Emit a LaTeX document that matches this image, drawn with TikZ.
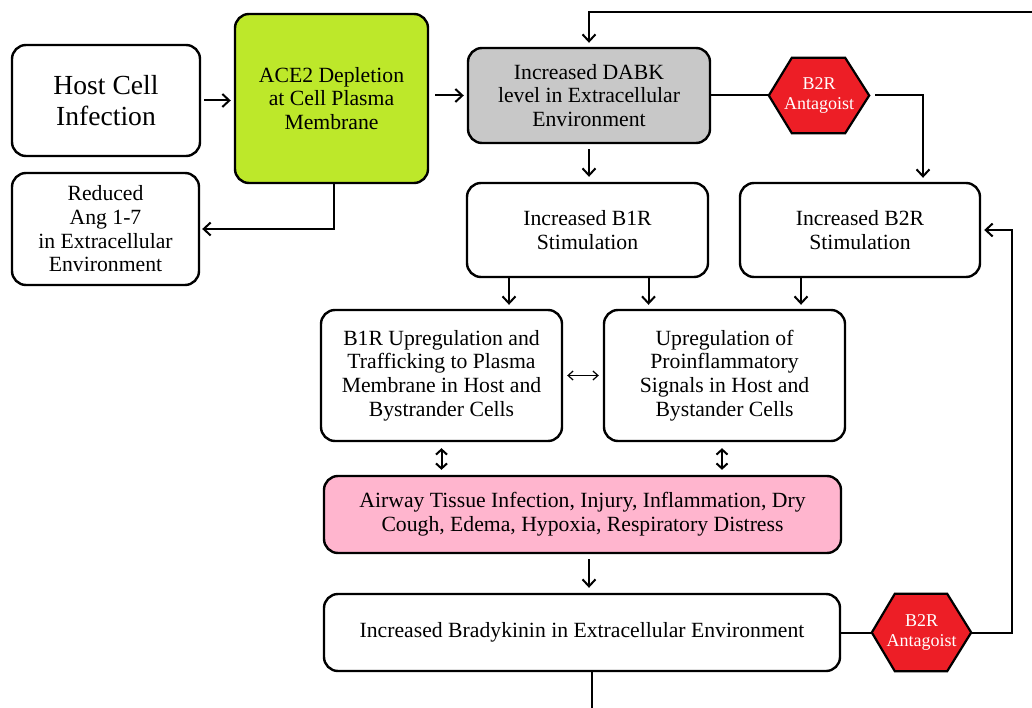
\documentclass[tikz,border=0pt]{standalone}
\usepackage{fontspec}
\setmainfont{Liberation Serif}
\usetikzlibrary{arrows.meta,calc,backgrounds}
\definecolor{acegreen}{RGB}{189,232,42}
\definecolor{dabkgray}{RGB}{200,200,200}
\definecolor{pinkbox}{RGB}{255,181,206}
\definecolor{hexred}{RGB}{237,30,38}
\tikzset{
  box/.style={draw=black, line width=2.4pt, rounded corners=14pt, align=center, inner sep=2pt,
    font=\fontsize{21.7}{23.7}\selectfont},
  hexnode/.style={draw=none, align=center, text=white, inner sep=0pt,
    font=\fontsize{18}{19.5}\selectfont},
  arr/.style={line width=2pt, -{Straight Barb[length=7pt,width=13pt]}},
  plain/.style={line width=2pt},
  dbl/.style={line width=1.2pt, {Straight Barb[length=5pt,width=9pt]}-{Straight Barb[length=5pt,width=9pt]}},
  dblv/.style={line width=2pt, {Straight Barb[length=5pt,width=11pt]}-{Straight Barb[length=5pt,width=11pt]}},
}
\begin{document}
\begin{tikzpicture}[x=1pt,y=-1pt]
\useasboundingbox (0,0) rectangle (1032,708);

\node[box, minimum width=188pt, minimum height=111pt, font=\fontsize{27.6}{31}\selectfont] (host) at (106,100.5) {Host Cell\\Infection};
\node[box, fill=acegreen, minimum width=193pt, minimum height=169pt] (ace2) at (331.5,98.5) {ACE2 Depletion\\at Cell Plasma\\Membrane};
\node[box, minimum width=187pt, minimum height=112pt] (reduced) at (105.5,229) {Reduced\\Ang 1-7\\in Extracellular\\Environment};
\node[box, fill=dabkgray, minimum width=242pt, minimum height=95pt] (dabk) at (589,95.5) {Increased DABK\\level in Extracellular\\Environment};
\node[box, minimum width=241pt, minimum height=94pt] (b1r) at (587.5,230) {Increased B1R\\Stimulation};
\node[box, minimum width=240pt, minimum height=94pt] (b2r) at (860,230) {Increased B2R\\Stimulation};
\node[box, minimum width=241pt, minimum height=131pt] (b1rup) at (441.5,375.5) {B1R Upregulation and\\Trafficking to Plasma\\Membrane in Host and\\Bystrander Cells};
\node[box, minimum width=241pt, minimum height=131pt] (upreg) at (724.5,375.5) {Upregulation of\\Proinflammatory\\Signals in Host and\\Bystander Cells};
\node[box, fill=pinkbox, minimum width=517pt, minimum height=77pt] (pink) at (582.5,514.5) {Airway Tissue Infection, Injury, Inflammation, Dry\\Cough, Edema, Hypoxia, Respiratory Distress};
\node[box, minimum width=516pt, minimum height=77pt] (brady) at (582,632.5) {Increased Bradykinin in Extracellular Environment};

\node[hexnode, minimum width=100pt, minimum height=75pt] (hex1) at (819,95.5) {B2R\\Antagoist};
\node[hexnode, minimum width=99pt, minimum height=77pt] (hex2) at (921.5,632.5) {B2R\\Antagoist};
\begin{scope}[on background layer]
\fill[white] (0,0) rectangle (1032,708);
\foreach \h in {hex1,hex2}{
  \draw[line width=2.2pt, fill=hexred, line join=miter]
    (\h.west) -- ($(\h.north west)+(23,0)$) -- ($(\h.north east)+(-24,0)$) -- (\h.east)
    -- ($(\h.south east)+(-24,0)$) -- ($(\h.south west)+(23,0)$) -- cycle;
}
\end{scope}

% connectors
\draw[arr, shorten <=3pt, shorten >=3pt] (host.east) -- (host.east -| ace2.west);
\draw[arr, shorten >=2pt] ([xshift=2.5]ace2.south) |- (reduced.east);
\draw[arr, shorten <=6pt, shorten >=3pt] (ace2.east |- dabk.west) -- (dabk.west);
\coordinate (topR) at (1032,12);
\draw[arr, shorten >=4pt] (topR) -| (dabk.north);
\draw[arr, shorten <=5pt, shorten >=5pt] (dabk.south) -- (dabk.south |- b1r.north);
\draw[plain] (dabk.east) -- (hex1.west);
\draw[arr, shorten <=6pt, shorten >=4pt] (hex1.east) -| ([xshift=63]b2r.north);
\draw[arr, shorten >=4pt] ([xshift=-78.5]b1r.south) -- ([xshift=-78.5]b1r.south |- b1rup.north);
\draw[arr, shorten >=4pt] ([xshift=61]b1r.south) -- ([xshift=61]b1r.south |- upreg.north);
\draw[arr, shorten >=4pt] ([xshift=-59]b2r.south) -- ([xshift=-59]b2r.south |- upreg.north);
\draw[dbl, shorten <=4pt, shorten >=4pt] (b1rup.east) -- (upreg.west);
\draw[dblv, shorten <=6pt, shorten >=5pt] (b1rup.south) -- (b1rup.south |- pink.north);
\draw[dblv, shorten <=6pt, shorten >=5pt] ([xshift=-2.5]upreg.south) -- ([xshift=-2.5]upreg.south |- pink.north);
\draw[arr, shorten <=5pt, shorten >=5pt] ([xshift=6.5]pink.south) -- ([xshift=6.5]pink.south |- brady.north);
\draw[plain] (brady.east) -- (hex2.west);
\coordinate (fb) at (1012,632.5);
\draw[arr, shorten >=3pt] (hex2.east) -- (fb) |- (b2r.east);
\coordinate (bot) at (592,712);
\draw[plain] (brady.south -| bot) -- (bot);
\end{tikzpicture}
\end{document}
